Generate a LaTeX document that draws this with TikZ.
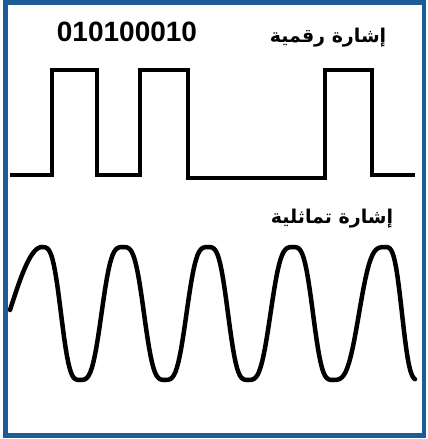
\documentclass[tikz,border=0pt]{standalone}
\usepackage{fontspec}
\setmainfont{Liberation Sans}
\newfontfamily\arabicfont[Script=Arabic]{DejaVu Sans}
\TeXXeTstate=1
\definecolor{framblue}{RGB}{30,92,152}
\tikzset{
  wave/.style={line width=4.5pt, black},
  arlabel/.style={font=\arabicfont\bfseries\fontsize{19}{22}\selectfont, inner sep=1pt},
}
\begin{document}
\begin{tikzpicture}[x=1pt, y=-1pt]
			\useasboundingbox (0,0) rectangle (428,439);
			\fill[white] (0,0) rectangle (428,439);
			\draw[framblue, line width=4.5pt] (5.5,2.5) rectangle (424,435.5);
			% digital signal
			\node[font=\bfseries\fontsize{28}{30}\selectfont, inner sep=1pt] (bits) at (127,32) {010100010};
			\node[arlabel] (digital) at (328,38) {\beginR إشارة رقمية\endR};
			\draw[wave, line join=miter] (10,175) -- (52,175) -- (52,70) -- (97,70) -- (97,175) -- (140,175) -- (140,70) -- (188,70) -- (188,178)
				-- (325,178) -- (325,70) -- (372,70) -- (372,175) -- (415,175);
			% analog signal
			\node[arlabel] (analog) at (332,219) {\beginR إشارة تماثلية\endR};
			\draw[wave, line join=round, line cap=round] plot[domain=10:42, samples=20] (\x, {247+63*(1-cos(90*(42-\x)/32))});
			\foreach \xa/\ya/\xb/\yb in {42/247/80/380, 80/380/123/247, 123/247/165/380, 165/380/208/247, 208/247/248/380,
				248/380/293/247, 293/247/333/380, 333/380/385/247}
				\draw[wave, line cap=round] plot[domain=\xa:\xb, samples=30]
					(\x, {(\ya+\yb)/2 + (\ya-\yb)/2*(1.45*cos(180*(\x-\xa)/(\xb-\xa)) - 0.45*cos(180*(\x-\xa)/(\xb-\xa))*cos(180*(\x-\xa)/(\xb-\xa))*cos(180*(\x-\xa)/(\xb-\xa)))});
			\draw[wave, line cap=round] plot[domain=385:415, samples=25]
				(\x, {313.5 - 66.5*(1.45*cos(180*(\x-385)/34) - 0.45*cos(180*(\x-385)/34)*cos(180*(\x-385)/34)*cos(180*(\x-385)/34))});
		\end{tikzpicture}
\end{document}
